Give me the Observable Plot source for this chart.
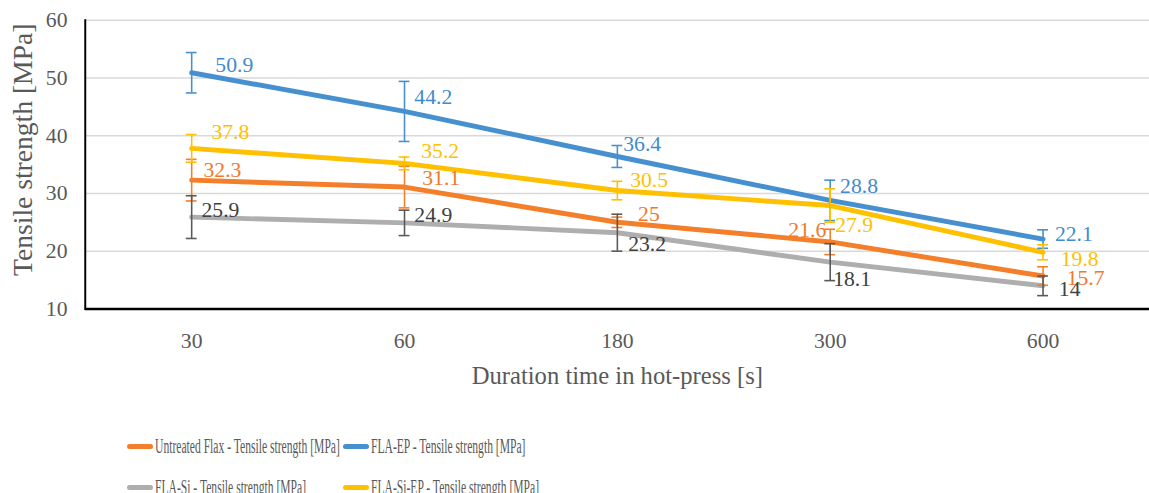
<!DOCTYPE html>
<html>
<head>
<meta charset="utf-8">
<script src="https://cdn.jsdelivr.net/npm/d3@7"></script>
<script src="https://cdn.jsdelivr.net/npm/@observablehq/plot@0.6"></script>
<style>
  html, body { margin: 0; padding: 0; background: #fff; overflow: hidden; width: 1149px; height: 493px; }
  #wrap { position: relative; width: 1149px; height: 493px; overflow: hidden; }
  #chart svg, #chart svg text { font-family: "Liberation Serif", "Times New Roman", serif !important; }
  #legend { position: absolute; left: 0; top: 0; width: 1149px; font-family: "Liberation Serif", serif; color: #595959; font-size: 20px; }
  .item { position: absolute; display: flex; align-items: center; white-space: nowrap; }
  .sw { width: 26px; height: 5px; border-radius: 3px; margin-right: 2px; flex: none; }
  .lab { display: inline-block; transform: scaleX(0.58); transform-origin: left center; }
</style>
</head>
<body>
<div id="wrap"><div id="chart"></div><div id="legend"></div></div>
<script>
// ---- data ----
const categories = ["30", "60", "180", "300", "600"];
const yTicks = [10, 20, 30, 40, 50, 60];

const seriesNames = [
  "Untreated Flax - Tensile strength [MPa]",
  "FLA-EP - Tensile strength [MPa]",
  "FLA-Si - Tensile strength [MPa]",
  "FLA-Si-EP - Tensile strength [MPa]"
];
const untreatedValues = [32.3, 31.1, 25, 21.6, 15.7];
const untreatedErrors = [3.6, 3.6, 0.9, 2.2, 1.6];
const flaEpValues = [50.9, 44.2, 36.4, 28.8, 22.1];
const flaEpErrors = [3.5, 5.2, 1.9, 3.5, 1.6];
const flaSiValues = [25.9, 24.9, 23.2, 18.1, 14];
const flaSiErrors = [3.7, 2.2, 3.2, 3.2, 1.7];
const flaSiEpValues = [37.8, 35.2, 30.5, 27.9, 19.8];
const flaSiEpErrors = [2.4, 1.1, 1.6, 2.9, 1.3];

const xTitle = "Duration time in hot-press [s]";
const yTitle = "Tensile strength [MPa]";

// ---- styles (kept apart from data) ----
const styles = [
  {line: "#F47F2A", label: "#F0782F", err: "#F47F2A", nudge: [[12,-10],[18,-9],[21,-8],[-4,-12],[24,2]]},
  {line: "#4690D0", label: "#3F8BCD", err: "#4690D0", nudge: [[24,-8],[10,-15],[6,-13],[10,-15],[12,-5]]},
  {line: "#AEAEAE", label: "#404040", err: "#595959", nudge: [[10,-7],[10,-8],[11,12],[3,17],[16,3]]},
  {line: "#FFC000", label: "#FFC000", err: "#FFC000", nudge: [[20,-17],[17,-13],[13,-11],[5,20],[18,7]]}
];

const valueSets = [untreatedValues, flaEpValues, flaSiValues, flaSiEpValues];
const errorSets = [untreatedErrors, flaEpErrors, flaSiErrors, flaSiEpErrors];

const series = seriesNames.map((name, s) => ({
  name,
  style: styles[s],
  rows: categories.map((c, i) => ({
    cat: c, value: valueSets[s][i], err: errorSets[s][i],
    lo: valueSets[s][i] - errorSets[s][i], hi: valueSets[s][i] + errorSets[s][i]
  }))
}));

const font = "Liberation Serif";
const marks = [
  Plot.gridY(yTicks, {stroke: "#d9d9d9", strokeOpacity: 1, strokeWidth: 1.5}),
  Plot.axisY(yTicks, {tickSize: 0, tickPadding: 18, fontSize: 22, fill: "#595959", label: null, fontFamily: font}),
  Plot.axisX({tickSize: 0, tickPadding: 24, fontSize: 22, fill: "#595959", label: null, fontFamily: font}),
  Plot.frame({anchor: "left", stroke: "#000", strokeWidth: 2}),
  Plot.ruleY([10], {stroke: "#000", strokeWidth: 2.5})
];

series.forEach(s => {
  marks.push(Plot.line(s.rows, {x: "cat", y: "value", stroke: s.style.line, strokeWidth: 5, strokeLinecap: "round", strokeLinejoin: "round"}));
});
series.forEach(s => {
  marks.push(Plot.ruleX(s.rows, {x: "cat", y1: "lo", y2: "hi", stroke: s.style.err, strokeWidth: 1.6}));
  marks.push(Plot.ruleY(s.rows, {x1: "cat", x2: "cat", y: "hi", stroke: s.style.err, strokeWidth: 1.6, insetLeft: -5.5, insetRight: -5.5}));
  marks.push(Plot.ruleY(s.rows, {x1: "cat", x2: "cat", y: "lo", stroke: s.style.err, strokeWidth: 1.6, insetLeft: -5.5, insetRight: -5.5}));
});
series.forEach(s => {
  s.rows.forEach((r, i) => {
    const [dx, dy] = s.style.nudge[i];
    marks.push(Plot.text([r], {
      x: "cat", y: "value", text: d => String(d.value),
      dx, dy, textAnchor: dx < 0 ? "end" : "start", lineAnchor: "middle",
      fill: s.style.label, fontSize: 22, fontFamily: font
    }));
  });
});
marks.push(Plot.text([xTitle], {frameAnchor: "bottom", textAnchor: "middle", lineAnchor: "middle", dy: 68, fontSize: 25, fill: "#595959", fontFamily: font}));
marks.push(Plot.text([yTitle], {frameAnchor: "left", textAnchor: "middle", lineAnchor: "middle", rotate: -90, dx: -63, dy: -15, fontSize: 28, fill: "#595959", fontFamily: font}));

const chart = Plot.plot({
  width: 1166,
  height: 400,
  marginLeft: 86,
  marginRight: 0,
  marginTop: 20,
  marginBottom: 87,
  style: {fontFamily: font, background: "transparent"},
  x: {type: "point", domain: categories, padding: 0.5},
  y: {domain: [10, 60]},
  marks
});
document.getElementById("chart").appendChild(chart);

// ---- legend (HTML, below the SVG) ----
const legend = document.getElementById("legend");
const legendPos = [[127, 446], [343, 446], [127, 487], [343, 487]];
seriesNames.forEach((name, s) => {
  const item = document.createElement("div");
  item.className = "item";
  item.style.left = legendPos[s][0] + "px";
  item.style.top = (legendPos[s][1] - 12) + "px";
  item.style.height = "24px";
  const sw = document.createElement("span");
  sw.className = "sw";
  sw.style.background = styles[s].line;
  const lab = document.createElement("span");
  lab.className = "lab";
  lab.textContent = name;
  item.appendChild(sw);
  item.appendChild(lab);
  legend.appendChild(item);
});
</script>
</body>
</html>
